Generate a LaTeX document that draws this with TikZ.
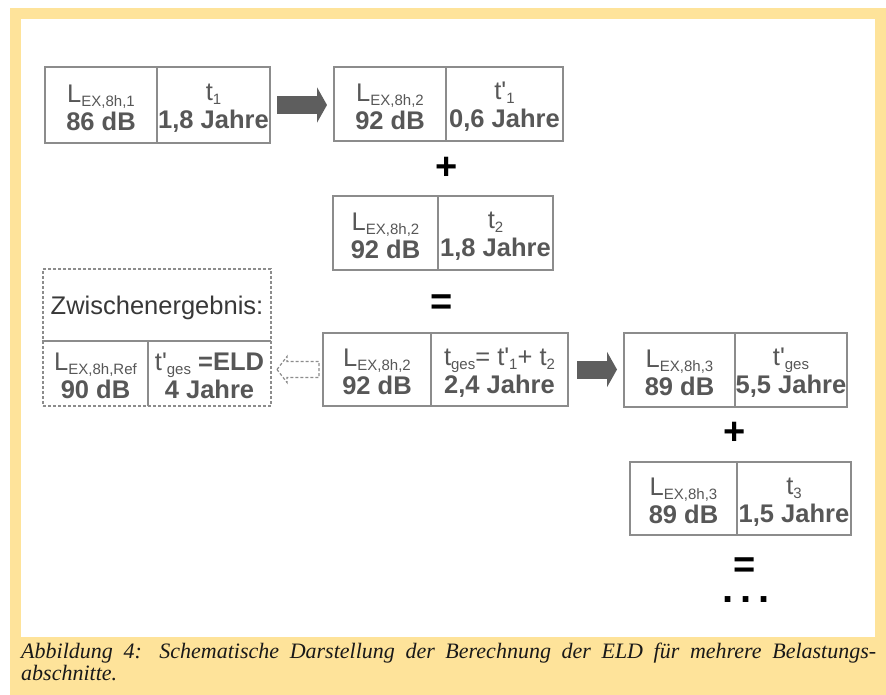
\documentclass[tikz,border=0pt]{standalone}
\usepackage{fontspec}
\setmainfont{Liberation Serif}
\newfontfamily\boxfont{Liberation Sans}
\usetikzlibrary{positioning, arrows.meta, calc}
\definecolor{framey}{HTML}{FEE39A}
\definecolor{boxgray}{HTML}{8C8C8C}
\definecolor{textgray}{HTML}{575757}
\definecolor{arrowgray}{HTML}{5E5E5E}
\newcommand{\lowsub}[1]{\raisebox{-4pt}{\fontsize{15}{15}\selectfont #1}}

\begin{document}
\begin{tikzpicture}[x=1pt, y=-1pt,
  cell/.style={draw=boxgray, line width=1.5pt, inner sep=0pt, outer sep=0pt,
    align=center, text=textgray, anchor=north west, text height=51pt,
    font=\boxfont\fontsize{25.5}{28}\selectfont},
  dcell/.style={cell, dash pattern=on 3pt off 2pt, line width=1.2pt},
  sign/.style={inner sep=1pt, font=\boxfont\bfseries\fontsize{38}{38}\selectfont},
  blockarrow/.style={draw=arrowgray, line width=18pt,
    -{Triangle[length=10pt, width=35pt]}},
  hollowarrow/.style={draw=boxgray, line width=1.2pt, dash pattern=on 3pt off 2pt,
    fill=white}]
\useasboundingbox (0,0) rectangle (886,695);
\fill[framey] (10,8) rectangle (886,695);
\fill[white] (21,19) rectangle (875,637);

\node[cell, minimum width=112pt, minimum height=76pt] (a0) at (45,67)
  {L\lowsub{EX,8h,1}\\\textbf{86 dB}};
\node[cell, minimum width=113pt, minimum height=76pt] (a0t) at (a0.north east)
  {t\lowsub{1}\\\textbf{1,8 Jahre}};

\node[cell, minimum width=112pt, minimum height=74pt] (b0) at (334,67)
  {L\lowsub{EX,8h,2}\\\textbf{92 dB}};
\node[cell, minimum width=117pt, minimum height=74pt] (b0t) at (b0.north east)
  {t'\lowsub{1}\\\textbf{0,6 Jahre}};

\node[sign] (p0) at (447,168) {+};

\node[cell, minimum width=105pt, minimum height=74pt] (c0) at (333,196)
  {L\lowsub{EX,8h,2}\\\textbf{92 dB}};
\node[cell, minimum width=115pt, minimum height=74pt] (c0t) at (c0.north east)
  {t\lowsub{2}\\\textbf{1,8 Jahre}};

\node[sign] (e0) at (442,305) {=};

\node[cell, minimum width=108pt, minimum height=73pt] (d0) at (323,333)
  {L\lowsub{EX,8h,2}\\\textbf{92 dB}};
\node[cell, minimum width=137pt, minimum height=73pt] (d0t) at (d0.north east)
  {t\lowsub{ges}= t'\lowsub{1}+ t\lowsub{2}\\\textbf{2,4 Jahre}};

\node[cell, minimum width=111pt, minimum height=74pt] (e1) at (624,333)
  {L\lowsub{EX,8h,3}\\\textbf{89 dB}};
\node[cell, minimum width=112pt, minimum height=74pt] (e1t) at (e1.north east)
  {t'\lowsub{ges}\\\textbf{5,5 Jahre}};

\node[sign] (p1) at (735,433) {+};

\node[cell, minimum width=107pt, minimum height=73pt] (f0) at (630,462)
  {L\lowsub{EX,8h,3}\\\textbf{89 dB}};
\node[cell, minimum width=114pt, minimum height=73pt] (f0t) at (f0.north east)
  {t\lowsub{3}\\\textbf{1,5 Jahre}};

\node[sign, text depth=0pt] (e2) at (745,568) {=};
\node[sign, text height=6pt, text depth=0pt, inner sep=0pt,
  font=\boxfont\bfseries\fontsize{40}{40}\selectfont] (dots) at (746,599)
  {.\hspace{7pt}.\hspace{7pt}.};

\node[dcell, minimum width=228pt, minimum height=72pt, text height=25pt,
  text=black!78] (z0) at (43,269) {Zwischenergebnis:};
\node[dcell, minimum width=105pt, minimum height=65pt] (z1) at (z0.south west)
  {L\lowsub{EX,8h,Ref}\\\textbf{90 dB}};
\node[dcell, minimum width=123pt, minimum height=65pt] (z2) at (z1.north east)
  {t'\lowsub{ges} \textbf{=ELD}\\\textbf{4 Jahre}};

\draw[blockarrow] ([xshift=7pt]a0t.east) -- ([xshift=-7pt]a0t.east -| b0.west);
\draw[blockarrow] ([xshift=9pt]d0t.east) -- ([xshift=-7pt]d0t.east -| e1.west);
\coordinate (hl) at ([xshift=6pt]z2.east |- d0.west);
\draw[hollowarrow] (hl) -- ++(10,-13) -- ++(0,5) -- ++(32,0) -- ++(0,16)
  -- ++(-32,0) -- ++(0,5) -- cycle;

\node[anchor=north west, inner sep=0pt, text width=855pt, align=justify,
  text=black!90, font=\itshape\fontsize{22}{22}\selectfont] (cap) at (21,643)
  {Abbildung 4: Schematische Darstellung der Berechnung der ELD für mehrere Belastungs-\linebreak abschnitte.};
\end{tikzpicture}
\end{document}
